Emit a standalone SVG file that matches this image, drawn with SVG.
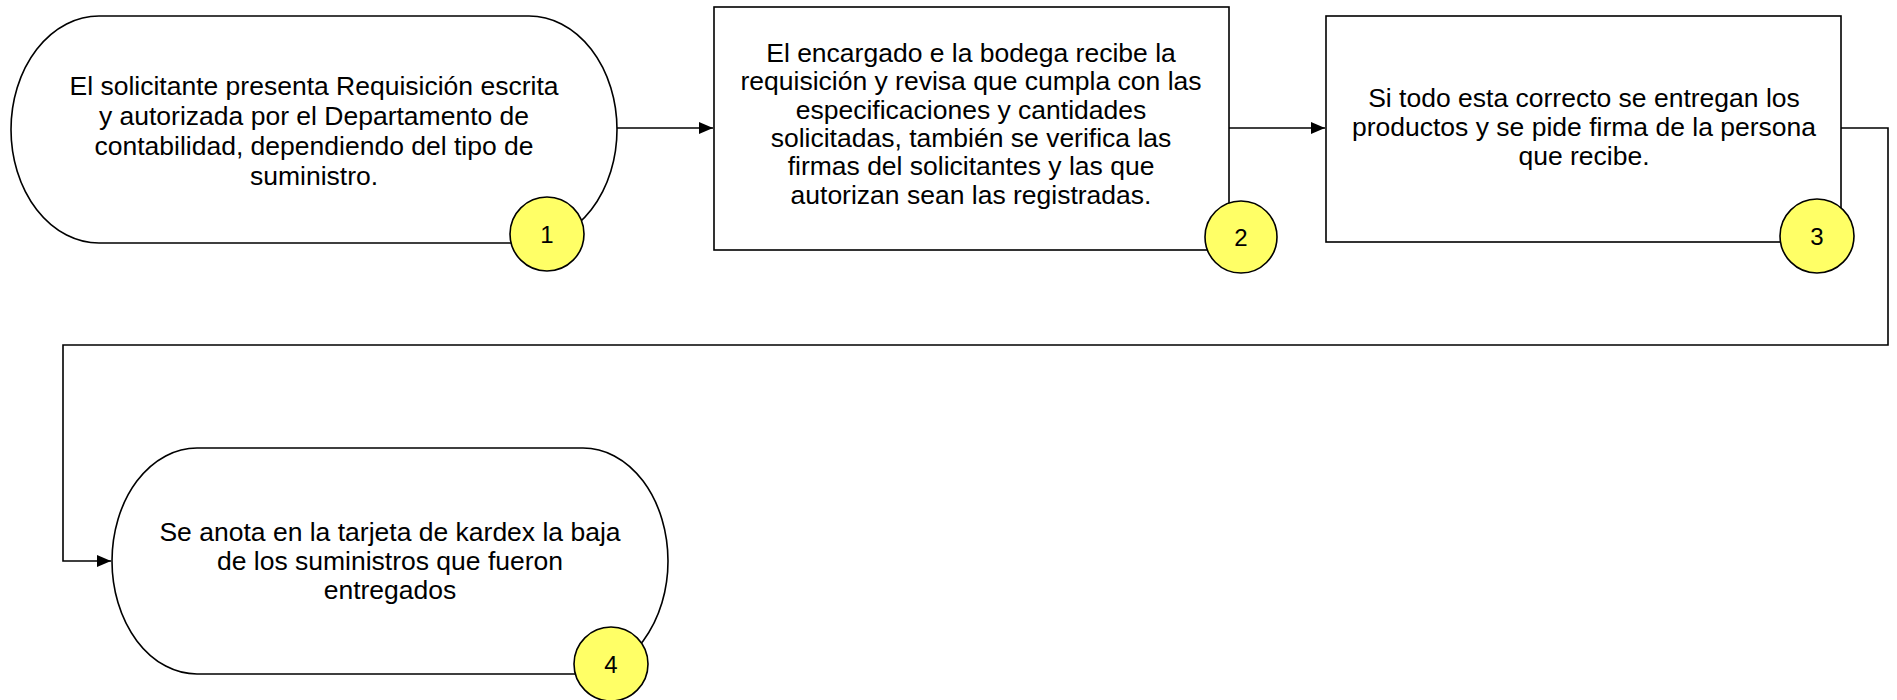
<svg xmlns="http://www.w3.org/2000/svg" width="1897" height="700" viewBox="0 0 1897 700">
<style>
.shape{fill:#ffffff;stroke:#000000;stroke-width:1.6}
.badge{fill:#ffff66;stroke:#000000;stroke-width:1.6}
.lbl{font-family:"Liberation Sans",Arial,sans-serif;font-size:26.5px;fill:#000000;text-anchor:middle}
.num{font-family:"Liberation Sans",Arial,sans-serif;font-size:24px;fill:#000000;text-anchor:middle}
.conn{fill:none;stroke:#000000;stroke-width:1.6}
</style>
<defs>
<marker id="arr" viewBox="0 0 14 12" refX="14" refY="6" markerWidth="14" markerHeight="12" markerUnits="userSpaceOnUse" orient="auto">
<path d="M0,0 L14,6 L0,12 Z" fill="#000000"/>
</marker>
</defs>
<g id="connectors">
<path class="conn" d="M617,128 H713" marker-end="url(#arr)"/>
<path class="conn" d="M1229,128 H1325" marker-end="url(#arr)"/>
<path class="conn" d="M1841,128 H1888 V345 H63 V561 H111" marker-end="url(#arr)"/>
</g>
<g id="node1">
<rect class="shape" x="11" y="16" width="606" height="227" rx="88" ry="113.5"/>
<text class="lbl" x="314" y="95">El solicitante presenta Requisición escrita</text>
<text class="lbl" x="314" y="125">y autorizada por el Departamento de</text>
<text class="lbl" x="314" y="155">contabilidad, dependiendo del tipo de</text>
<text class="lbl" x="314" y="185">suministro.</text>
<circle class="badge" cx="547" cy="234" r="37"/>
<text class="num" x="547" y="243">1</text>
</g>
<g id="node2">
<rect class="shape" x="714" y="7" width="515" height="243"/>
<text class="lbl" x="971" y="62">El encargado e la bodega recibe la</text>
<text class="lbl" x="971" y="90">requisición y revisa que cumpla con las</text>
<text class="lbl" x="971" y="119">especificaciones y cantidades</text>
<text class="lbl" x="971" y="147">solicitadas, también se verifica las</text>
<text class="lbl" x="971" y="175">firmas del solicitantes y las que</text>
<text class="lbl" x="971" y="204">autorizan sean las registradas.</text>
<circle class="badge" cx="1241" cy="237" r="36"/>
<text class="num" x="1241" y="246">2</text>
</g>
<g id="node3">
<rect class="shape" x="1326" y="16" width="515" height="226"/>
<text class="lbl" x="1584" y="107">Si todo esta correcto se entregan los</text>
<text class="lbl" x="1584" y="136">productos y se pide firma de la persona</text>
<text class="lbl" x="1584" y="165">que recibe.</text>
<circle class="badge" cx="1817" cy="236" r="37"/>
<text class="num" x="1817" y="245">3</text>
</g>
<g id="node4">
<rect class="shape" x="112" y="448" width="556" height="226" rx="85" ry="113"/>
<text class="lbl" x="390" y="541">Se anota en la tarjeta de kardex la baja</text>
<text class="lbl" x="390" y="570">de los suministros que fueron</text>
<text class="lbl" x="390" y="599">entregados</text>
<circle class="badge" cx="611" cy="664" r="37"/>
<text class="num" x="611" y="673">4</text>
</g>
</svg>
